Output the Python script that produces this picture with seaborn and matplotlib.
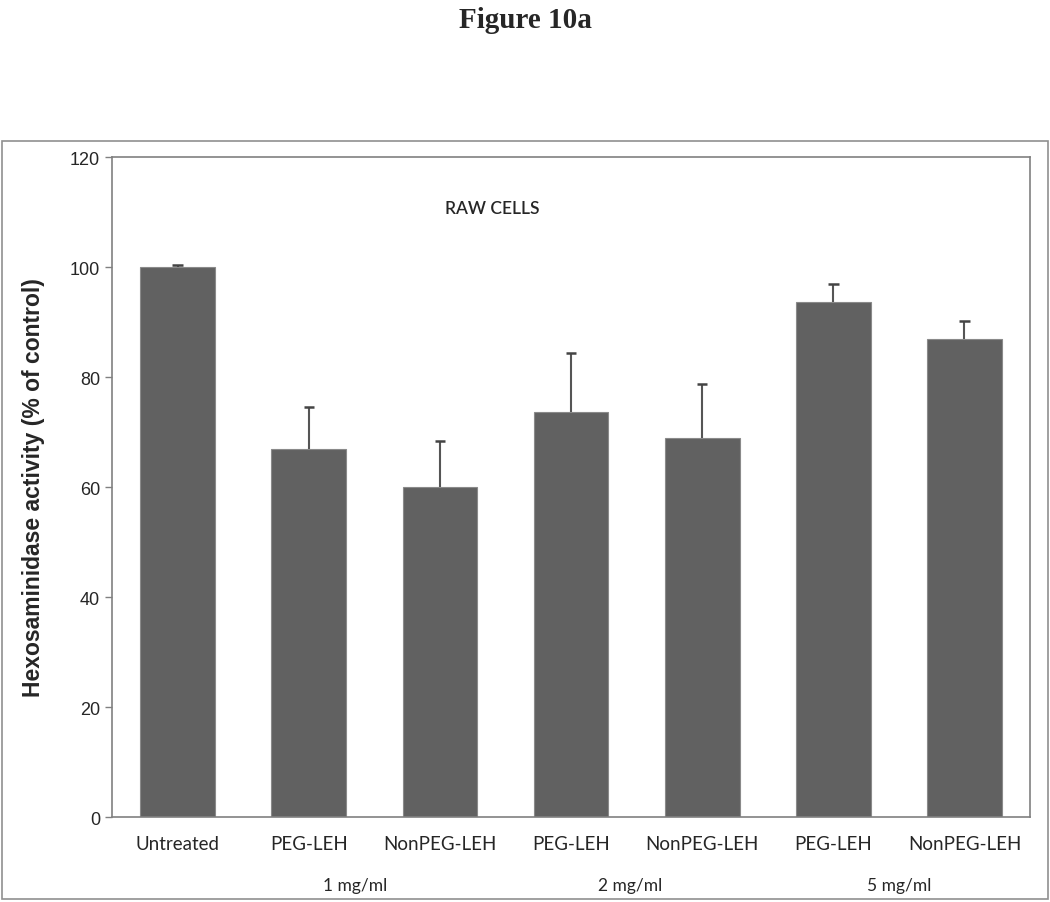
import numpy as np
import pandas as pd
import seaborn as sns
import matplotlib.pyplot as plt
from matplotlib.patches import Rectangle

# values
treatments = ["Untreated", "PEG-LEH", "NonPEG-LEH", "PEG-LEH", "NonPEG-LEH", "PEG-LEH", "NonPEG-LEH"]
activity = [100.0, 67.0, 60.0, 73.6, 69.0, 93.7, 87.0]
sem = [0.3, 7.6, 8.3, 10.8, 9.7, 3.3, 3.2]
doses = ["1 mg/ml", "2 mg/ml", "5 mg/ml"]

df = pd.DataFrame({"key": [f"{i}_{t}" for i, t in enumerate(treatments)],
                   "activity": activity, "sem": sem})

sns.set_style("white")
plt.rcParams["font.family"] = ["Liberation Sans", "DejaVu Sans"]

fig = plt.figure(figsize=(10.5, 9.03), dpi=100)
ax = fig.add_axes([0.1067, 0.0941, 0.8743, 0.7309])

sns.barplot(data=df, x="key", y="activity", color="#616161", saturation=1,
            width=0.57, edgecolor="#8a8a8a", linewidth=0.8, ax=ax)

# upper-only error bars (Excel style)
xs = np.arange(len(df))
tops = df["activity"] + df["sem"]
ax.vlines(xs, df["activity"], tops, color="#555555", linewidth=1.5, zorder=3)
ax.hlines(tops, xs - 0.04, xs + 0.04, color="#444444", linewidth=1.8, zorder=3)

ax.set_ylim(0, 120)
ax.set_yticks(range(0, 121, 20))
ax.set_xlim(-0.5, len(df) - 0.5)
ax.set_xticks(xs)
ax.set_xticklabels(treatments, fontsize=13.5, family=["Lato", "DejaVu Sans"])
ax.tick_params(axis="x", length=0, pad=13)
ax.tick_params(axis="y", length=5, width=1, color="#808080", direction="out",
               labelsize=13, left=True)
ax.set_xlabel("")
ax.set_ylabel("Hexosaminidase activity (% of control)", fontsize=16.5,
              fontweight="bold", labelpad=18)
for s in ax.spines.values():
    s.set_color("#808080")
    s.set_linewidth(1.2)

for p, d in zip([1.35, 3.45, 5.5], doses):
    ax.text(p, -12.3, d, ha="center", va="center", fontsize=12.5,
            family=["Lato", "DejaVu Sans"], clip_on=False)

ax.text(2.4, 110.7, "RAW CELLS", ha="center", va="center", fontsize=12.5,
        fontweight="semibold", family=["Lato", "DejaVu Sans"])

fig.text(0.5, 0.977, "Figure 10a", ha="center", va="center", fontsize=21,
         fontweight="bold", family=["Liberation Serif", "DejaVu Serif"])

fig.patches.append(Rectangle((0.002, 0.003), 0.996, 0.84, transform=fig.transFigure,
                             fill=False, edgecolor="#909090", linewidth=1.2))

fig.savefig("out.png", dpi=100)
